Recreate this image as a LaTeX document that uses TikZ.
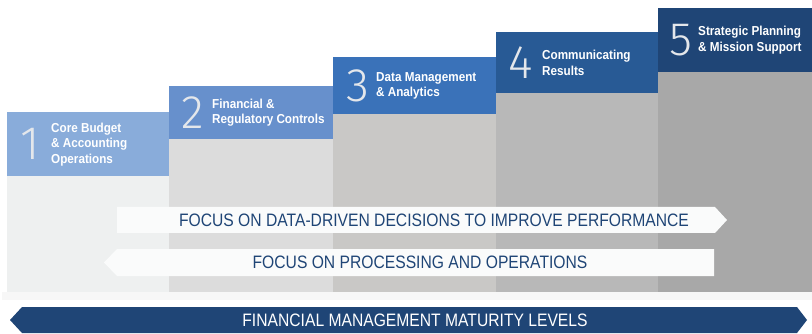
\documentclass[tikz,border=0pt]{standalone}
\usepackage{fontspec}
\setmainfont{Liberation Sans}
\newfontfamily\headfont[FakeStretch=0.9]{Liberation Sans}
\newfontfamily\focusfont[FakeStretch=0.87]{Liberation Sans}
\newfontfamily\numfont{Fira Sans Light}

\definecolor{body1}{HTML}{EEF0F0}
\definecolor{body2}{HTML}{DCDCDC}
\definecolor{body3}{HTML}{C9C8C6}
\definecolor{body4}{HTML}{B8B8B8}
\definecolor{body5}{HTML}{A8A8A8}
\definecolor{head1}{HTML}{89ACDA}
\definecolor{head2}{HTML}{6790CC}
\definecolor{head3}{HTML}{3A72B9}
\definecolor{head4}{HTML}{285A95}
\definecolor{head5}{HTML}{1F4576}
\definecolor{navy}{HTML}{1F4576}
\definecolor{strip}{HTML}{F7F7F7}
\definecolor{pale}{HTML}{FAFBFB}
\definecolor{numgray}{HTML}{E4E7EB}

\tikzset{
  head/.style={anchor=north west, inner sep=0pt, minimum width=163pt},
  num/.style={inner sep=0pt, text=numgray, font=\numfont\fontsize{47}{47}\selectfont},
  label/.style={anchor=west, inner sep=0pt, align=left, text=white,
    font=\headfont\bfseries\fontsize{13}{15.5}\selectfont},
  focus/.style={inner sep=0pt, text=navy, font=\focusfont\fontsize{18}{18}\selectfont}
}

\begin{document}
\begin{tikzpicture}[x=1pt,y=-1pt]
    \useasboundingbox (0,0) rectangle (812,334);
    \fill[white] (0,0) rectangle (812,334);
    \fill[strip] (2,292) rectangle (812,300);

    % column bodies
    \fill[body1] (7,176) rectangle (169,292);
    \fill[body2] (169,139) rectangle (333,292);
    \fill[body3] (333,114) rectangle (496,292);
    \fill[body4] (496,93) rectangle (658,292);
    \fill[body5] (658,72) rectangle (812,292);

    % headers
    \node(h1)[head, fill=head1, minimum width=162pt, minimum height=64pt] at (7,112) {};
    \node(h2)[head, fill=head2, minimum width=164pt, minimum height=53pt] at (169,86) {};
    \node(h3)[head, fill=head3, minimum height=57pt] at (333,57) {};
    \node(h4)[head, fill=head4, minimum width=162pt, minimum height=61pt] at (496,32) {};
    \node(h5)[head, fill=head5, minimum width=154pt, minimum height=64pt] at (658,8) {};

    \node(n1)[num] at ([xshift=23.5pt]h1.west) {1};
    \node(n2)[num] at ([xshift=24pt]h2.west) {2};
    \node(n3)[num] at ([xshift=24.5pt]h3.west) {3};
    \node(n4)[num] at ([xshift=25pt]h4.west) {4};
    \node(n5)[num] at ([xshift=23pt]h5.west) {5};

    \node(l1)[label] at ([xshift=44pt]h1.west) {Core Budget\\\& Accounting\\Operations};
    \node(l2)[label] at ([xshift=43pt]h2.west) {Financial \&\\Regulatory Controls};
    \node(l3)[label] at ([xshift=43pt]h3.west) {Data Management\\\& Analytics};
    \node(l4)[label] at ([xshift=46pt]h4.west) {Communicating\\Results};
    \node(l5)[label] at ([xshift=40pt]h5.west) {Strategic Planning\\\& Mission Support};

    % focus arrows
    \fill[pale] (117,207) -- (715,207) -- (727,220) -- (715,233) -- (117,233) -- cycle;
    \fill[pale] (117,249) -- (714,249) -- (714,276) -- (117,276) -- (104,262.5) -- cycle;
    \node(f1)[focus] at (434,220) {FOCUS ON DATA-DRIVEN DECISIONS TO IMPROVE PERFORMANCE};
    \node(f2)[focus] at (420,262.5) {FOCUS ON PROCESSING AND OPERATIONS};

    % maturity arrow
    \fill[navy] (10,320) -- (22,307) -- (797,307) -- (807,320) -- (797,333) -- (22,333) -- cycle;
    \node(m)[focus, text=white] at (415,320) {FINANCIAL MANAGEMENT MATURITY LEVELS};
\end{tikzpicture}
\end{document}
